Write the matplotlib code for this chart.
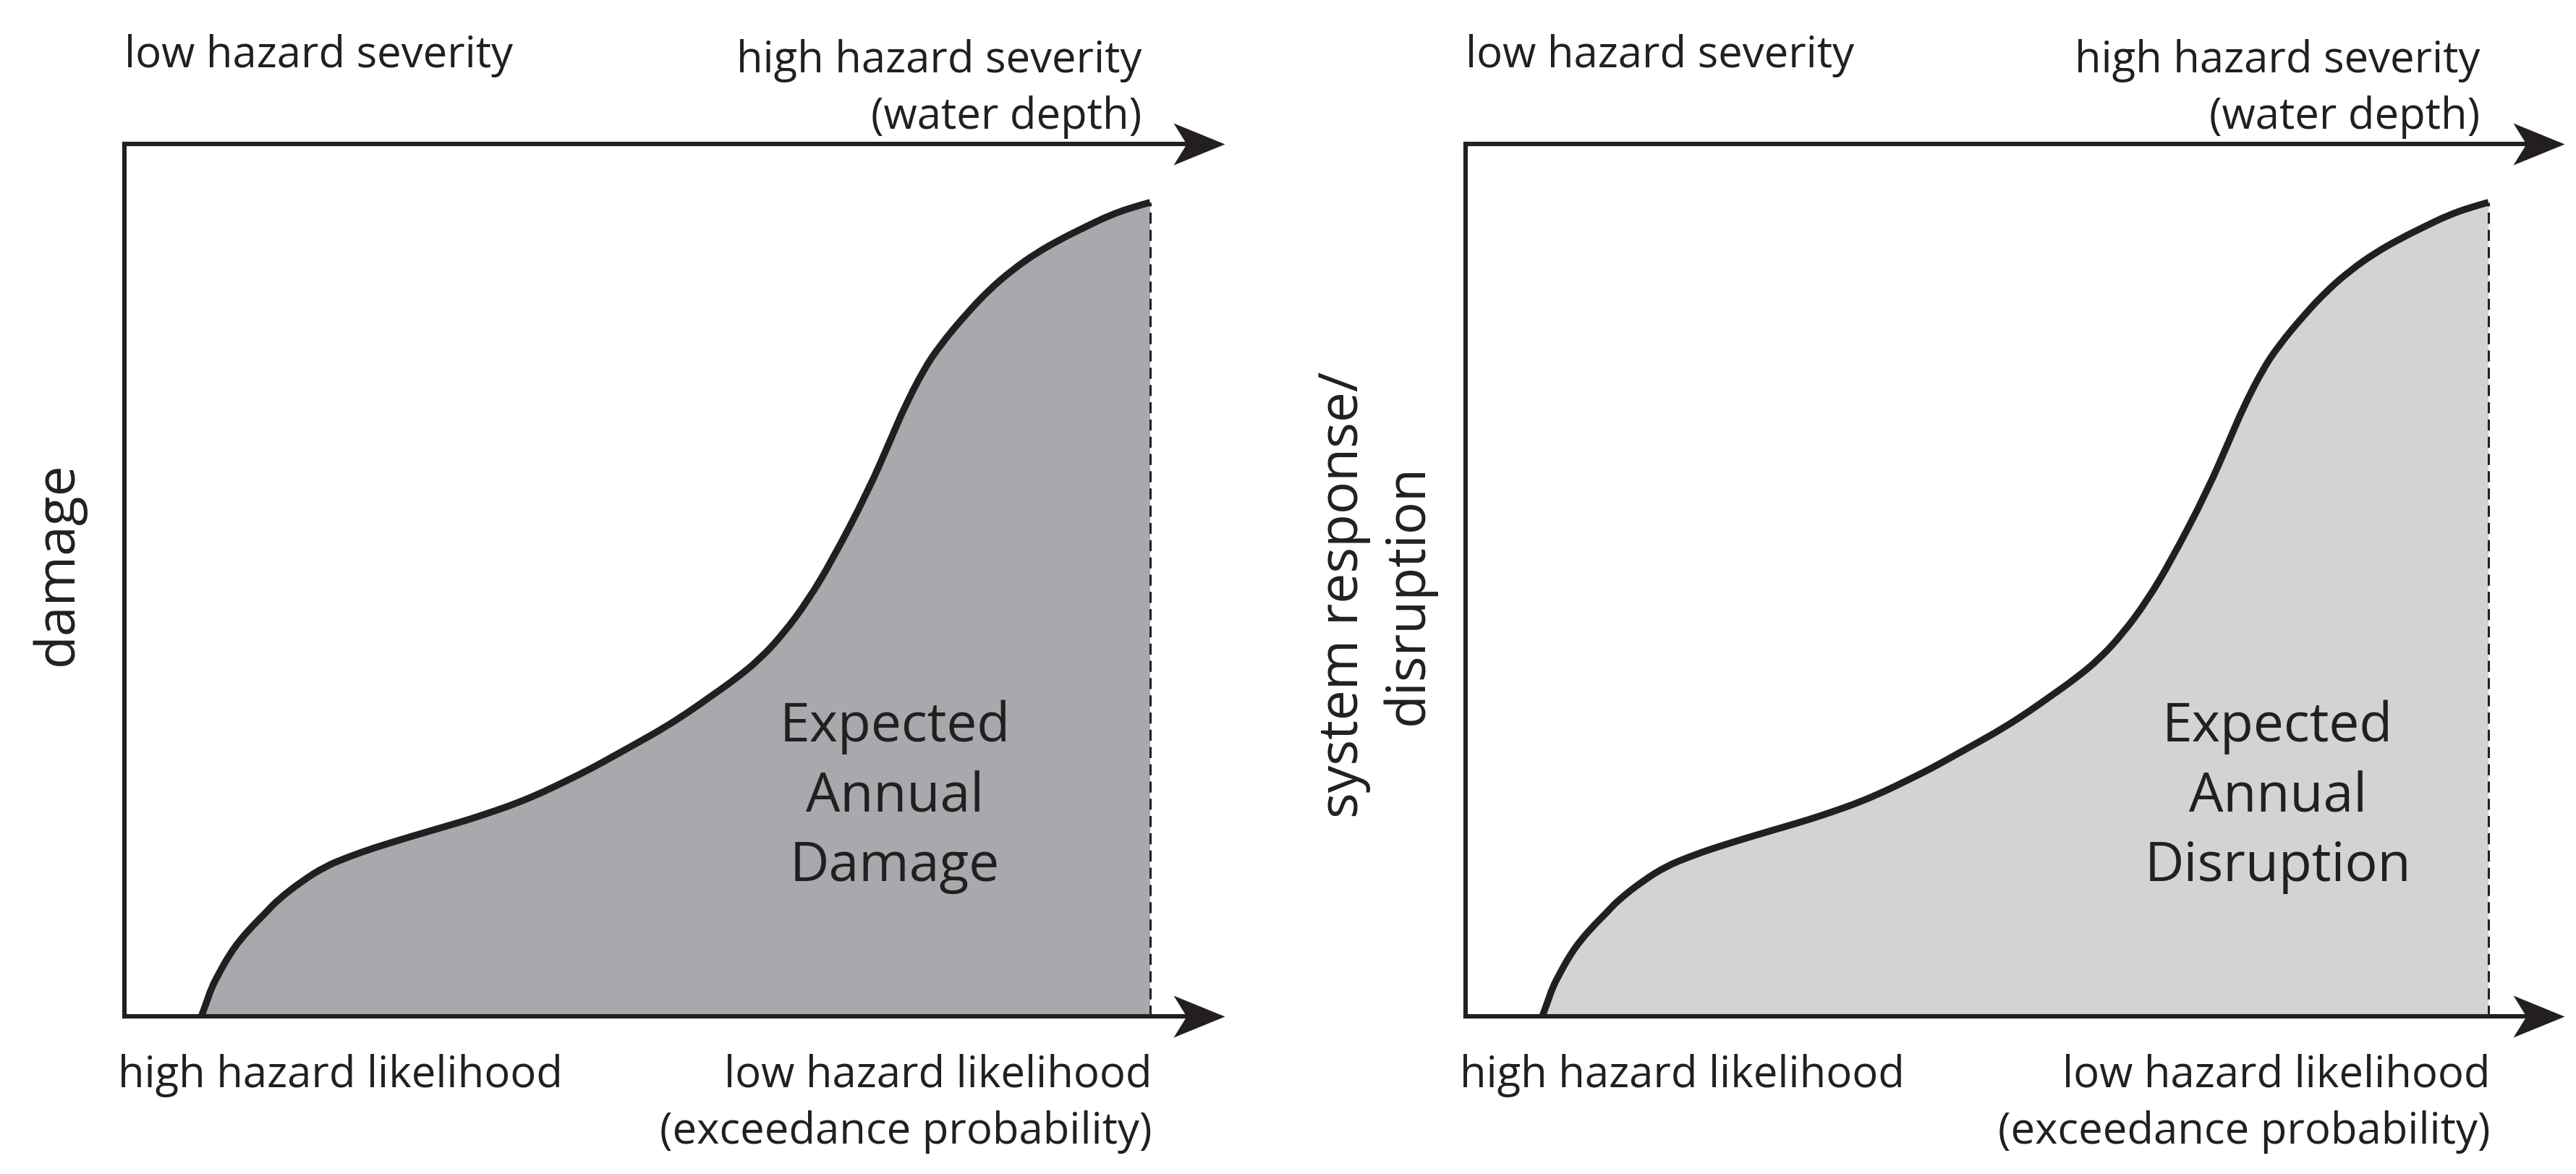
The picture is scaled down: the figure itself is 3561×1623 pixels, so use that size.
import matplotlib
matplotlib.use("Agg")
import matplotlib.pyplot as plt
from matplotlib.path import Path
from matplotlib.patches import PathPatch

plt.rcParams['font.family'] = ['Open Sans', 'DejaVu Sans']

# ---- data (normalised: x 0..100 = left axis .. dashed line, y 0..100 = bottom .. top axis)
curve_x = [7.5, 8.0, 8.5, 9.2, 10.2, 11.3, 12.6, 13.8, 14.9, 17.3, 19.6, 21.9, 24.3, 27.9,
           31.4, 33.7, 36.0, 38.4, 40.8, 43.1, 45.5, 47.8, 50.1, 52.5, 54.9, 57.2, 59.6,
           61.9, 64.2, 66.6, 69.0, 72.5, 74.8, 76.0, 77.9, 79.5, 81.9, 84.3, 86.6, 88.9,
           91.3, 93.7, 96.0, 98.4, 100.0]
curve_y = [0.0, 1.6, 3.3, 4.9, 7.0, 8.8, 10.5, 11.9, 13.3, 15.5, 17.2, 18.3, 19.3, 20.6,
           21.8, 22.6, 23.5, 24.5, 25.7, 27.0, 28.4, 29.9, 31.4, 33.0, 34.8, 36.7, 38.7,
           40.9, 43.8, 47.6, 52.3, 60.2, 66.4, 69.7, 74.1, 76.9, 80.3, 83.3, 85.6, 87.5,
           89.1, 90.5, 91.8, 92.8, 93.3]

panel_ylabels = [["damage"], ["system response/", "disruption"]]
panel_area_labels = [["Expected", "Annual", "Damage"], ["Expected", "Annual", "Disruption"]]
top_left_label = "low hazard severity"
top_right_labels = ["high hazard severity", "(water depth)"]
bottom_left_label = "high hazard likelihood"
bottom_right_labels = ["low hazard likelihood", "(exceedance probability)"]
fill_colors = ["#a7a9ac", "#d1d3d4"]

INK = "#231f20"
W, H = 3562, 1624
fig = plt.figure(figsize=(W / 200, H / 200), dpi=200)

# pixel layout of the two panels: (left axis x, dashed line x, arrow tip x)
panels = [(172, 1590, 1693), (2026, 3440, 3545)]
y_bottom_px, y_top_px = 1406, 200
area_cx = [75.1, 79.4]
ylabel_x = [[-6.5], [-11.9, -5.6]]
ylabel_y = [52.0, 48.4]

# stealth arrow head marker (tip at origin), in pixel proportions
head = Path([(0, 0), (-71, 29), (-53, 0), (-71, -29), (0, 0)],
            [Path.MOVETO, Path.LINETO, Path.LINETO, Path.LINETO, Path.CLOSEPOLY])
head_ms = 71 / 200 * 72 * 2


def smooth_path(xs, ys, close=False):
    pts = list(zip(xs, ys))
    verts = [pts[0]]
    codes = [Path.MOVETO]
    m = ((pts[0][0] + pts[1][0]) / 2, (pts[0][1] + pts[1][1]) / 2)
    verts.append(m)
    codes.append(Path.LINETO)
    for k in range(1, len(pts) - 1):
        nxt = pts[k + 1]
        end = nxt if k == len(pts) - 2 else ((pts[k][0] + nxt[0]) / 2, (pts[k][1] + nxt[1]) / 2)
        verts += [pts[k], end]
        codes += [Path.CURVE3, Path.CURVE3]
    if close:
        verts += [(xs[-1], 0), (xs[0], 0), (0, 0)]
        codes += [Path.LINETO, Path.LINETO, Path.CLOSEPOLY]
    return Path(verts, codes)


base_fs = 21.5
for i, (xl, xd, xt) in enumerate(panels):
    scale = (xd - xl) / 100.0
    xmax = (xt - xl) / scale
    ax = fig.add_axes([xl / W, (H - y_bottom_px) / H, (xt - xl) / W,
                       (y_bottom_px - y_top_px) / H])
    ax.set_xlim(0, xmax)
    ax.set_ylim(0, 100)
    ax.set_xticks([])
    ax.set_yticks([])
    for s in ["top", "right", "bottom"]:
        ax.spines[s].set_visible(False)
    ax.spines["left"].set_linewidth(2.2)
    ax.spines["left"].set_color(INK)
    ax.spines["left"].set_capstyle("projecting")
    ax.patch.set_alpha(0)

    # shaded area + curve + dashed boundary
    ax.add_patch(PathPatch(smooth_path(curve_x, curve_y, close=True),
                           facecolor=fill_colors[i], edgecolor="none", zorder=1))
    ax.add_patch(PathPatch(smooth_path(curve_x, curve_y), facecolor="none",
                           edgecolor=INK, lw=3.4, capstyle="butt", joinstyle="round",
                           zorder=4, clip_on=False))
    ax.vlines(curve_x[-1], 0, curve_y[-1], colors=INK, lw=1.1,
              linestyles=(0, (5, 2.8)), zorder=3)

    # arrows (top and bottom axes)
    head_len_data = 60 / scale
    for yy in (0, 100):
        ax.plot([0, xmax - head_len_data / 2], [yy, yy], color=INK, lw=2.2,
                solid_capstyle="projecting", clip_on=False, zorder=5)
        ax.plot([xmax], [yy], marker=head, ms=head_ms, color=INK, mew=0,
                clip_on=False, zorder=5)

    def yn(px):
        return (y_bottom_px - px) / (y_bottom_px - y_top_px) * 100

    # top labels
    ax.text(0.0, yn(93), top_left_label, ha="left", va="baseline",
            fontsize=base_fs, color=INK)
    ax.text(99.2, yn(100), top_right_labels[0], ha="right", va="baseline",
            fontsize=base_fs, color=INK)
    ax.text(99.2, yn(178), top_right_labels[1], ha="right", va="baseline",
            fontsize=base_fs, color=INK)
    # bottom labels
    ax.text(-0.6, yn(1503), bottom_left_label, ha="left", va="baseline",
            fontsize=base_fs, color=INK)
    ax.text(100.2, yn(1503), bottom_right_labels[0], ha="right", va="baseline",
            fontsize=base_fs, color=INK)
    ax.text(100.2, yn(1581), bottom_right_labels[1], ha="right", va="baseline",
            fontsize=base_fs, color=INK)
    # y label(s)
    for lab, lx in zip(panel_ylabels[i], ylabel_x[i]):
        ax.text(lx, ylabel_y[i], lab, rotation=90, ha="center", va="center",
                fontsize=27, color=INK)
    # area label
    for lab, by in zip(panel_area_labels[i], [1025, 1122, 1218]):
        ax.text(area_cx[i], yn(by), lab, ha="center", va="baseline",
                fontsize=27, color=INK, zorder=6)

fig.savefig("out.png", dpi=200, facecolor="white")
